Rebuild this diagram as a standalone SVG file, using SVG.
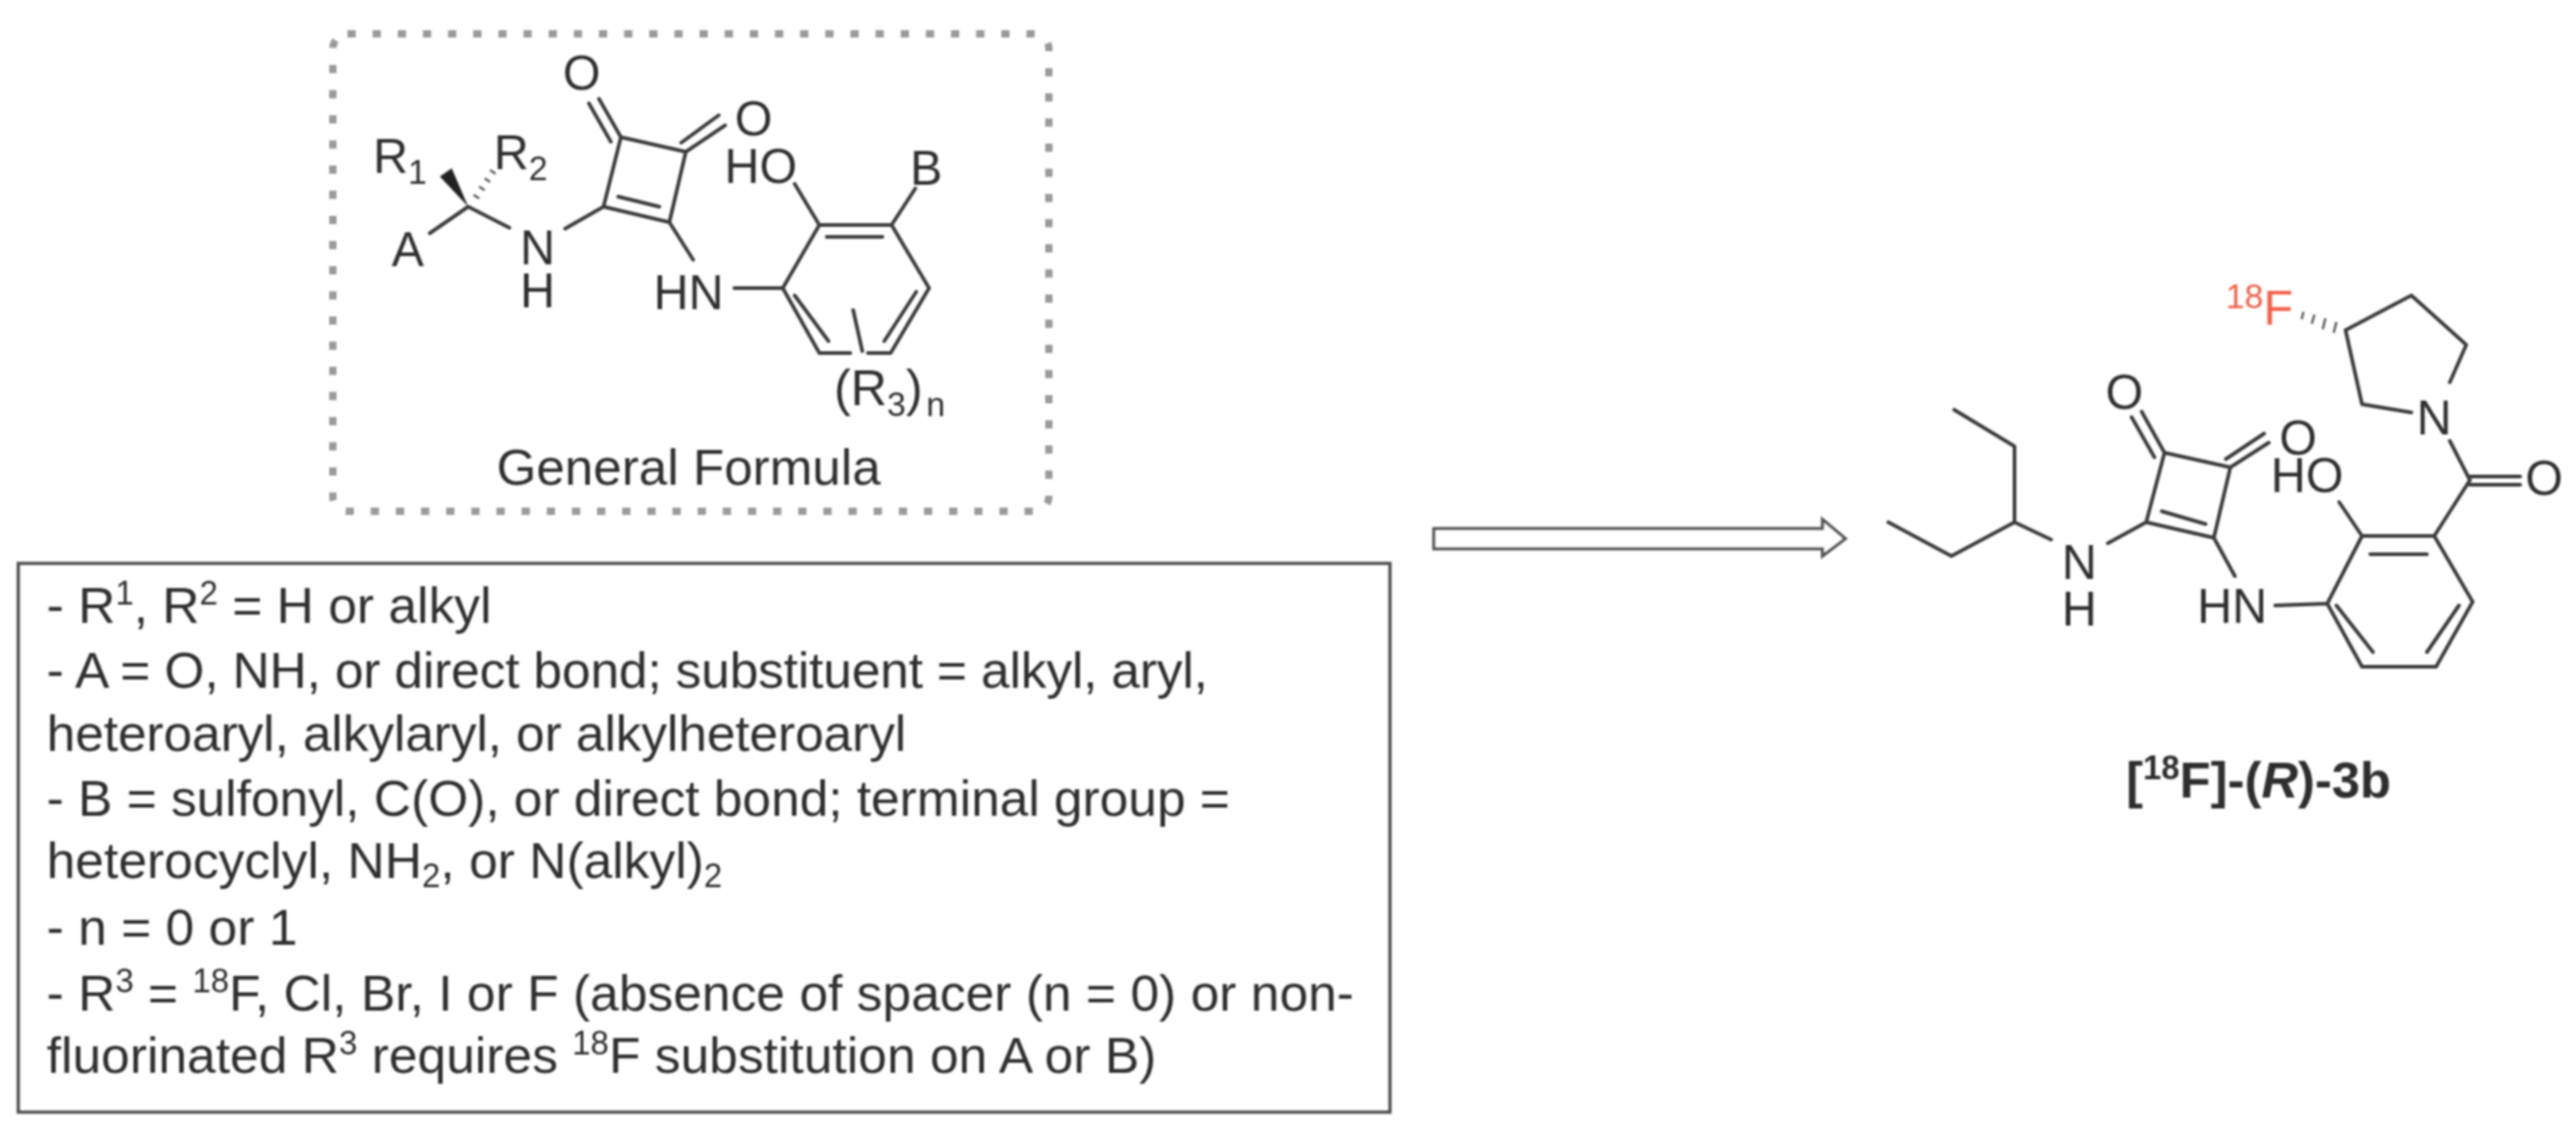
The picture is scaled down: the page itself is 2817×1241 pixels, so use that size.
<svg xmlns="http://www.w3.org/2000/svg" width="2817" height="1241" viewBox="0 0 2817 1241">
<defs>
<style>
text{font-family:"Liberation Sans",Arial,sans-serif;fill:#2e2e2e}
.a{font-size:53px;text-anchor:middle}
.s{font-size:37px}
.t{font-size:56.4px}
.sm{font-size:36px}
.b{fill:none;stroke:#3a3a3a;stroke-width:4;stroke-linecap:round;stroke-linejoin:round}
.h{fill:none;stroke:#555;stroke-width:2.5;stroke-linecap:butt}
.red{fill:#f0604a}
</style>
<filter id="soft" x="0" y="0" width="2817" height="1241" filterUnits="userSpaceOnUse" primitiveUnits="userSpaceOnUse"><feGaussianBlur stdDeviation="1.3"/></filter>
</defs>
<rect width="2817" height="1241" fill="#fff"/>
<g filter="url(#soft)">
<g id="general-formula">
<rect x="364" y="37" width="783" height="522" rx="16" fill="none" stroke="#9a9a9a" stroke-width="8" stroke-dasharray="9 18.5"/>
<path class="b" d="M679 150L750 166L732 243L660 226ZM676 215L721 226M679 150L655 108M668 155L644 113M750 166L793 137M745 156L786 126M660 226L618 250M557 249L512 226L470 255M732 243L758 284M856 315L803 315M896 386L856 315L896 246L975 246L1016 315L974 386L949 386M930 386L896 386M904 259L965 259M869 323L906 373M1002 319L967 373M896 246L869 201M975 246L1001 206M933 339L943 384"/>
<path d="M512 226L481 193L494 184Z" fill="#222"/>
<path class="h" d="M518 213L524 217M524 204L530 208M530 195L536 199M536 186L542 190"/>
<text class="a" x="636" y="98">O</text>
<text class="a" x="824" y="148">O</text>
<text class="a" x="832" y="200">HO</text>
<text class="a" x="1013" y="202">B</text>
<text class="a" x="588" y="289">N</text>
<text class="a" x="588" y="336">H</text>
<text class="a" x="753" y="338">HN</text>
<text class="a" x="446" y="291">A</text>
<text x="408" y="189" font-size="53">R<tspan class="s" dy="12">1</tspan></text>
<text x="540" y="185" font-size="53">R<tspan class="s" dy="12">2</tspan></text>
<text x="912" y="443" font-size="55">(R<tspan class="s" dy="12">3</tspan><tspan dy="-12">)</tspan><tspan class="s" dy="12" dx="4">n</tspan></text>
<text x="753" y="530" font-size="56" text-anchor="middle">General Formula</text>
</g>
<g id="criteria">
<rect x="20" y="616" width="1500" height="600" fill="none" stroke="#4d4d4d" stroke-width="3.5"/>
<text class="t" x="51" y="681">- R<tspan class="sm" dy="-20">1</tspan><tspan dy="20">, R</tspan><tspan class="sm" dy="-20">2</tspan><tspan dy="20"> = H or alkyl</tspan></text>
<text class="t" x="51" y="752" textLength="1270">- A = O, NH, or direct bond; substituent = alkyl, aryl,</text>
<text class="t" x="51" y="821" textLength="940">heteroaryl, alkylaryl, or alkylheteroaryl</text>
<text class="t" x="51" y="892" textLength="1294">- B = sulfonyl, C(O), or direct bond; terminal group =</text>
<text class="t" x="51" y="960">heterocyclyl, NH<tspan class="sm" dy="10">2</tspan><tspan dy="-10">, or N(alkyl)</tspan><tspan class="sm" dy="10">2</tspan></text>
<text class="t" x="51" y="1033">- n = 0 or 1</text>
<text class="t" x="51" y="1105">- R<tspan class="sm" dy="-20">3</tspan><tspan dy="20"> = </tspan><tspan class="sm" dy="-20">18</tspan><tspan dy="20">F, Cl, Br, I or F (absence of spacer (n = 0) or non-</tspan></text>
<text class="t" x="51" y="1173">fluorinated R<tspan class="sm" dy="-20">3</tspan><tspan dy="20"> requires </tspan><tspan class="sm" dy="-20">18</tspan><tspan dy="20">F substitution on A or B)</tspan></text>
</g>
<g id="connectors">
<path d="M1568 578H1993V568L2018 589L1993 608V600H1568Z" fill="#fff" stroke="#555" stroke-width="3.5" stroke-linejoin="miter"/>
</g>
<g id="compound-3b">
<path class="b" d="M2367 495L2439 511L2421 588L2347 571ZM2364 559L2412 573M2367 495L2342 450M2356 500L2331 456M2439 511L2481 484M2434 502L2476 474M2347 571L2305 594M2243 590L2203 571L2203 488L2137 448M2203 571L2134 608L2065 571M2421 588L2444 630M2488 662L2545 660L2583 586L2662 586L2704 658L2664 729L2583 729L2545 660M2592 606L2654 606M2555 662L2595 713M2689 662L2654 713M2583 586L2558 549M2662 586L2701 525L2679 482M2701 521L2756 521M2701 530L2756 530M2565 361L2637 323L2697 377L2679 418M2565 361L2583 442L2637 451"/>
<path class="h" d="M2555 352L2552 364M2543 348L2540 360M2531 344L2528 354M2519 341L2517 349"/>
<text class="a" x="2323" y="447">O</text>
<text class="a" x="2513" y="497">O</text>
<text class="a" x="2523" y="538">HO</text>
<text class="a" x="2274" y="633">N</text>
<text class="a" x="2274" y="684">H</text>
<text class="a" x="2441" y="681">HN</text>
<text class="a" x="2662" y="475">N</text>
<text class="a" x="2782" y="541">O</text>
<text x="2434" y="355" font-size="53" class="red"><tspan class="s red" dy="-18">18</tspan><tspan class="red" dy="18">F</tspan></text>
<text x="2325" y="872" font-size="55.5" font-weight="700">[<tspan class="sm" dy="-20">18</tspan><tspan dy="20">F]-(</tspan><tspan font-style="italic">R</tspan>)-3b</text>
</g>
</g>
</svg>
